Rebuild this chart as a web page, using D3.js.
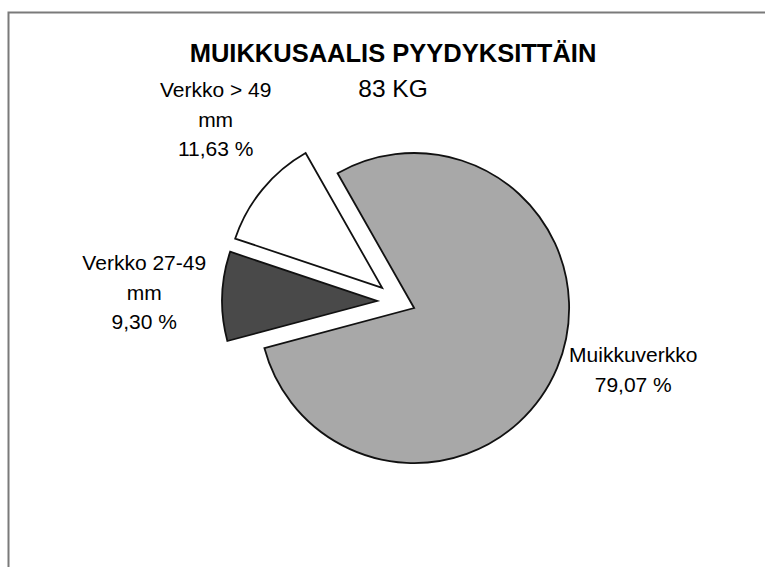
<!DOCTYPE html>
<html><head><meta charset="utf-8">
<script src="https://cdn.jsdelivr.net/npm/d3@7"></script>
<style>body{margin:0;background:#fff} svg{display:block}</style>
</head><body>
<svg id="chart" width="765" height="567"></svg>
<script>
// ---- data ----
const categories = ["Muikkuverkko", "Verkko 27-49 mm", "Verkko > 49 mm"];
const labelNames = [["Muikkuverkko"], ["Verkko 27-49", "mm"], ["Verkko > 49", "mm"]];
const percentValues = [79.07, 9.30, 11.63];
const titleText = "MUIKKUSAALIS PYYDYKSITTÄIN";
const subtitleText = "83 KG";

// ---- styles / layout ----
const sliceColors = ["#a8a8a8", "#494949", "#ffffff"];
const explode = [16.4, 21.9, 21.8];
const labelTweak = [[7, -27], [-3, -1], [11, -22]];
const W = 765, H = 567;
const cx = 399, cy = 301.7, R = 155, labelR = 230;
const startDeg = -29.6;
const font = "'Liberation Sans', Arial, sans-serif";

const svg = d3.select("#chart");
svg.append("rect").attr("width", W).attr("height", H).attr("fill", "#fff");

// frame
svg.append("path").attr("d", `M8.5,${H}V12.5H${W}`)
  .attr("fill", "none").attr("stroke", "#7a7a7a").attr("stroke-width", 2);

const fmt = v => d3.format(".2f")(v).replace(".", ",") + " %";

const pie = d3.pie().sort(null).value(d => d)
  .startAngle(startDeg * Math.PI / 180)
  .endAngle(startDeg * Math.PI / 180 + 2 * Math.PI);
const arcs = pie(percentValues);
const arc = d3.arc().innerRadius(0).outerRadius(R);
const labelArc = d3.arc().innerRadius(labelR).outerRadius(labelR);
const unitArc = d3.arc().innerRadius(1).outerRadius(1);

const g = svg.append("g").attr("transform", `translate(${cx},${cy})`);

arcs.forEach((a, i) => {
  const [ux, uy] = unitArc.centroid(a);
  const ox = ux * explode[i], oy = uy * explode[i];
  g.append("path")
    .attr("d", arc(a))
    .attr("transform", `translate(${ox},${oy})`)
    .attr("fill", sliceColors[i])
    .attr("stroke", "#111")
    .attr("stroke-width", 1.8)
    .attr("stroke-linejoin", "miter");

  const [lx, ly] = labelArc.centroid(a);
  const lines = labelNames[i].concat([fmt(percentValues[i])]);
  const n = lines.length;
  const t = g.append("text")
    .attr("text-anchor", "middle")
    .attr("font-family", font)
    .attr("font-size", 21)
    .attr("fill", "#000");
  lines.forEach((s, k) => {
    t.append("tspan")
      .attr("x", lx + ox + labelTweak[i][0])
      .attr("y", ly + oy + labelTweak[i][1] + (k - (n - 1) / 2) * 29.5 + 7)
      .text(s);
  });
});

svg.append("text").attr("x", 393).attr("y", 62)
  .attr("text-anchor", "middle").attr("font-family", font)
  .attr("font-weight", "bold").attr("font-size", 25.5).attr("fill", "#000")
  .text(titleText);
svg.append("text").attr("x", 393).attr("y", 97)
  .attr("text-anchor", "middle").attr("font-family", font)
  .attr("font-size", 24.5).attr("fill", "#000")
  .text(subtitleText);
</script>
</body></html>
